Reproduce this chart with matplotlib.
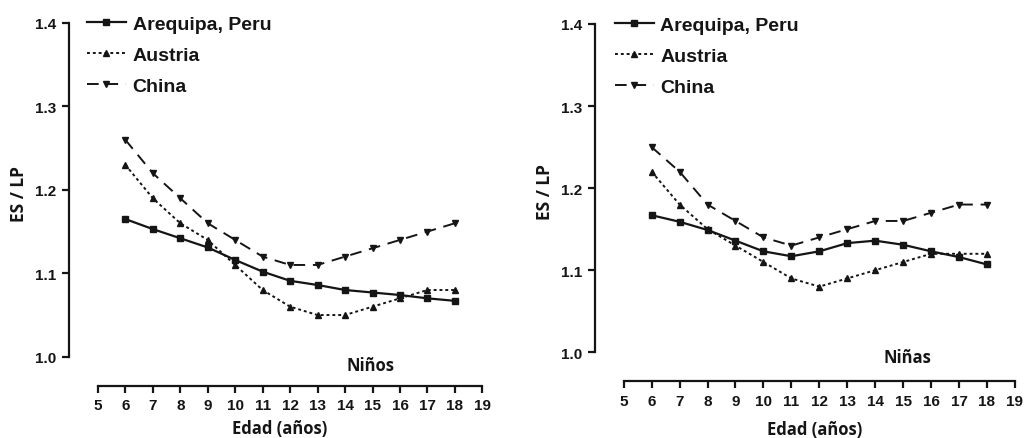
import matplotlib
matplotlib.use("Agg")
import matplotlib.pyplot as plt

plt.rcParams["font.weight"] = "bold"

# edades
ages = [6, 7, 8, 9, 10, 11, 12, 13, 14, 15, 16, 17, 18]

# Niños
boys_peru = [1.165, 1.153, 1.142, 1.131, 1.116, 1.102, 1.091, 1.086, 1.080, 1.077, 1.074, 1.070, 1.067]
boys_austria = [1.23, 1.19, 1.16, 1.14, 1.11, 1.08, 1.06, 1.05, 1.05, 1.06, 1.07, 1.08, 1.08]
boys_china = [1.26, 1.22, 1.19, 1.16, 1.14, 1.12, 1.11, 1.11, 1.12, 1.13, 1.14, 1.15, 1.16]

# Niñas
girls_peru = [1.167, 1.159, 1.149, 1.136, 1.123, 1.117, 1.123, 1.133, 1.136, 1.131, 1.123, 1.116, 1.107]
girls_austria = [1.22, 1.18, 1.15, 1.13, 1.11, 1.09, 1.08, 1.09, 1.10, 1.11, 1.12, 1.12, 1.12]
girls_china = [1.25, 1.22, 1.18, 1.16, 1.14, 1.13, 1.14, 1.15, 1.16, 1.16, 1.17, 1.18, 1.18]

labels = ["Arequipa, Peru", "Austria", "China"]
xticks = list(range(5, 20))
yticks = [1.0, 1.1, 1.2, 1.3, 1.4]

ink = "#151515"
tick_font = "Liberation Sans"
label_font = "Open Sans"


def panel(ax, peru, austria, china, tag, tag_xy, leg_xy, xlab_xy, ylab_x, xmin):
    ax.plot(ages, peru, color=ink, lw=1.6, ls="-", marker="s", ms=5, label=labels[0])
    ax.plot(ages, austria, color=ink, lw=1.4, ls=(0, (1.5, 1.5)), marker="^", ms=5, label=labels[1])
    ax.plot(ages, china, color=ink, lw=1.4, ls=(0, (6, 4)), marker="v", ms=5, label=labels[2])

    ax.set_xlim(xmin, 19.05)
    ax.set_ylim(0.965, 1.41)
    for s in ["top", "right"]:
        ax.spines[s].set_visible(False)
    ax.spines["left"].set_bounds(1.0, 1.4)
    ax.spines["bottom"].set_bounds(5, 19)
    for s in ["left", "bottom"]:
        ax.spines[s].set_linewidth(1.6)
        ax.spines[s].set_color(ink)

    ax.set_xticks(xticks)
    ax.set_yticks(yticks)
    ax.set_yticklabels([f"{v:.1f}" for v in yticks])
    ax.tick_params(axis="both", direction="out", length=5, width=1.6, color=ink, pad=4)
    for t in ax.get_xticklabels() + ax.get_yticklabels():
        t.set_fontfamily(tick_font)
        t.set_fontweight("bold")
        t.set_fontsize(11)
        t.set_color(ink)

    ax.set_xlabel("Edad (años)", fontfamily=label_font, fontweight="bold", fontsize=12, color=ink)
    ax.xaxis.set_label_coords(*xlab_xy)
    ax.set_ylabel("ES / LP", fontfamily=label_font, fontweight="bold", fontsize=12.5, color=ink)
    ax.yaxis.set_label_coords(ylab_x, 0.52)

    ax.text(tag_xy[0], tag_xy[1], tag, ha="center", va="center",
            fontfamily=label_font, fontweight="bold", fontsize=12, color=ink)

    leg = ax.legend(loc="upper left", bbox_to_anchor=leg_xy, frameon=False,
                    handlelength=2.0, handletextpad=0.35, labelspacing=0.68,
                    borderpad=0, borderaxespad=0,
                    prop={"family": tick_font, "weight": "bold", "size": 14})
    for t in leg.get_texts():
        t.set_color(ink)


fig = plt.figure(figsize=(10.24, 4.39), dpi=100)
ax1 = fig.add_axes([0.0674, 0.1185, 0.405, 0.846])
ax2 = fig.add_axes([0.581, 0.1298, 0.4115, 0.832])

panel(ax1, boys_peru, boys_austria, boys_china, "Niños", (14.94, 0.99),
      (0.043, 0.998), (0.507, -0.09), -0.098, 3.95)
panel(ax2, girls_peru, girls_austria, girls_china, "Niñas", (15.14, 0.994),
      (0.047, 0.998), (0.522, -0.106), -0.098, 3.97)

fig.savefig("out.png", dpi=100, facecolor="white")
